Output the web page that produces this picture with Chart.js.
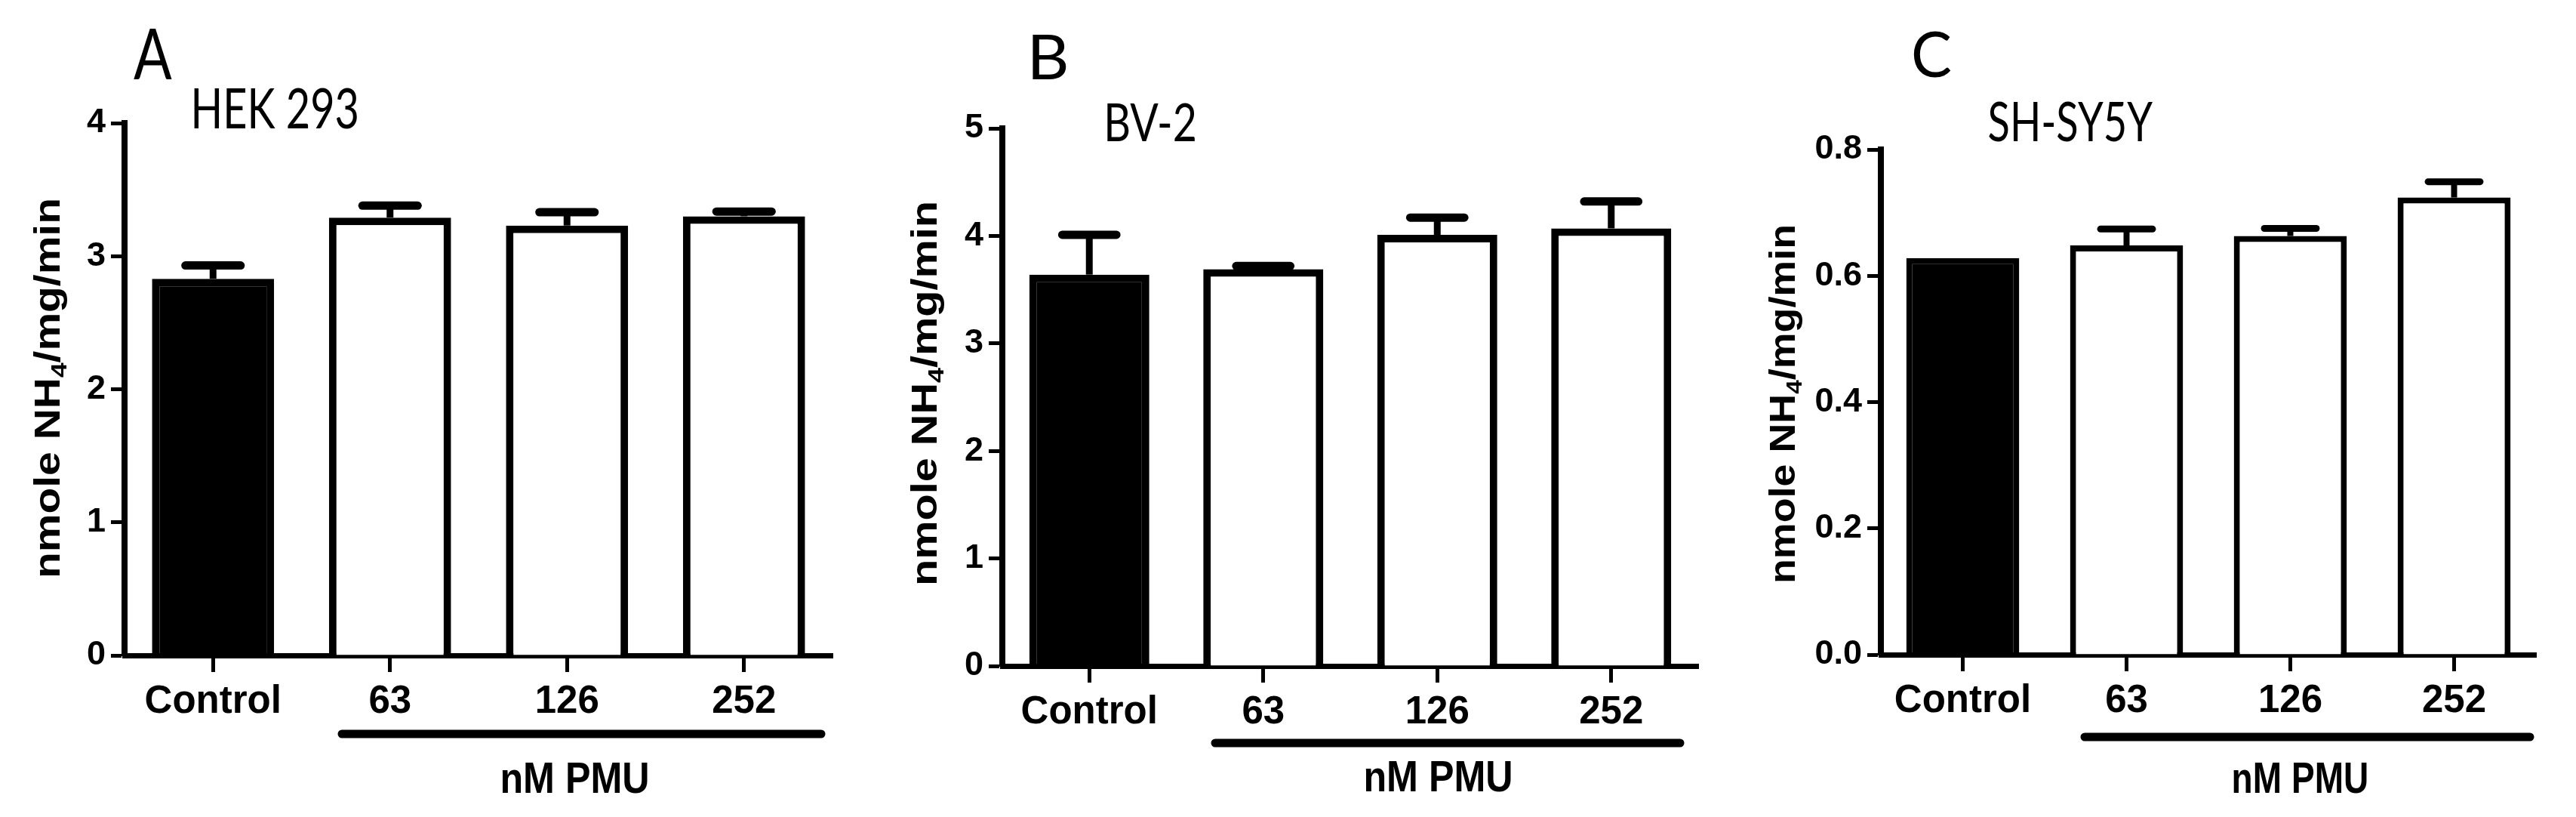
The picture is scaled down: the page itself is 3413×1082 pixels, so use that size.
<!DOCTYPE html>
<html><head><meta charset="utf-8">
<script src="https://cdn.jsdelivr.net/npm/chart.js@4.4.1/dist/chart.umd.min.js"></script>
<style>
html,body{margin:0;padding:0;background:#fff;}
body{width:3413px;height:1082px;position:relative;overflow:hidden;}
canvas{position:absolute;top:0;}
</style></head><body>
<canvas id="cA" width="1140" height="1082" style="left:0px;width:1140px;height:1082px"></canvas>
<canvas id="cB" width="1140" height="1082" style="left:1140px;width:1140px;height:1082px"></canvas>
<canvas id="cC" width="1133" height="1082" style="left:2280px;width:1133px;height:1082px"></canvas>
<script>
// ---------- data ----------
const categories = ['Control', '63', '126', '252'];
const groupLabel = 'nM PMU';
const yTitleParts = ['nmole NH', '4', '/mg/min'];

const hekName = 'HEK 293';
const hekMeans = [2.83, 3.29, 3.23, 3.30];
const hekSem   = [0.10, 0.09, 0.10, 0.035];
const hekTicks = ['0', '1', '2', '3', '4'];

const bv2Name = 'BV-2';
const bv2Means = [3.64, 3.69, 4.01, 4.07];
const bv2Sem   = [0.37, 0.03, 0.16, 0.25];
const bv2Ticks = ['0', '1', '2', '3', '4', '5'];

const shName = 'SH-SY5Y';
const shMeans = [0.628, 0.648, 0.663, 0.724];
const shSem   = [0, 0.026, 0.012, 0.025];
const shTicks = ['0.0', '0.2', '0.4', '0.6', '0.8'];

const barColors = ['#000000', '#ffffff', '#ffffff', '#ffffff'];

// ---------- font detection ----------
function hasFont(name) {
  const c = document.createElement('canvas').getContext('2d');
  c.font = '100px monospace'; const a = c.measureText('Control 0123').width;
  c.font = '100px "' + name + '", monospace'; const b = c.measureText('Control 0123').width;
  return Math.abs(a - b) > 0.5;
}
const NARROW = hasFont('Liberation Sans Narrow');
const labelFamily = NARROW ? '"Liberation Sans Narrow", "Liberation Sans", Arial, sans-serif' : '"Liberation Sans", Arial, sans-serif';
const labelScale = NARROW ? 1 : 0.84;

// ---------- plugins ----------
const errorBars = {
  id: 'errorBars',
  afterDatasetsDraw(chart, args, opts) {
    const ctx = chart.ctx;
    const meta = chart.getDatasetMeta(0);
    const ds = chart.data.datasets[0];
    const y = chart.scales.y;
    ctx.save();
    ctx.strokeStyle = '#000';
    meta.data.forEach((bar, i) => {
      const s = ds.sem[i];
      if (!s) return;
      const top = y.getPixelForValue(ds.data[i]);
      const capY = y.getPixelForValue(ds.data[i] + s);
      const half = bar.width * opts.capRatio / 2;
      ctx.lineCap = 'butt';
      ctx.lineWidth = opts.whisker;
      ctx.beginPath(); ctx.moveTo(bar.x, top); ctx.lineTo(bar.x, capY); ctx.stroke();
      ctx.lineCap = 'round';
      ctx.lineWidth = opts.cap;
      ctx.beginPath();
      ctx.moveTo(bar.x - half + opts.cap / 2, capY);
      ctx.lineTo(bar.x + half - opts.cap / 2, capY);
      ctx.stroke();
    });
    ctx.restore();
  }
};

function fitText(ctx, text, font, x, base, w) {
  ctx.save();
  ctx.font = font;
  ctx.fillStyle = '#000';
  ctx.textAlign = 'left';
  ctx.textBaseline = 'alphabetic';
  const m = ctx.measureText(text);
  const ink = m.actualBoundingBoxRight + m.actualBoundingBoxLeft;
  const sx = w / ink;
  ctx.translate(x, base);
  ctx.scale(sx, 1);
  ctx.fillText(text, m.actualBoundingBoxLeft, 0);
  ctx.restore();
}

function drawYTitle(ctx, P) {
  const F = 56;
  const fam = '"Liberation Sans", Arial, sans-serif';
  ctx.save();
  ctx.fillStyle = '#000';
  ctx.textAlign = 'left';
  ctx.textBaseline = 'alphabetic';
  ctx.font = 'bold ' + F + 'px ' + fam;
  const w1 = ctx.measureText(yTitleParts[0]).width;
  const w3 = ctx.measureText(yTitleParts[2]).width;
  ctx.font = 'bold ' + (F * 0.62) + 'px ' + fam;
  const w2 = ctx.measureText(yTitleParts[1]).width;
  const L = w1 + w2 + w3;
  const sx = (P.yt.y2 - P.yt.y1) / L;
  ctx.translate(P.yt.base - P.offsetX, P.yt.y2);
  ctx.rotate(-Math.PI / 2);
  ctx.scale(sx, 0.85);
  ctx.font = 'bold ' + F + 'px ' + fam;
  ctx.fillText(yTitleParts[0], 0, 0);
  ctx.font = 'bold ' + (F * 0.62) + 'px ' + fam;
  ctx.fillText(yTitleParts[1], w1, F * 0.18);
  ctx.font = 'bold ' + F + 'px ' + fam;
  ctx.fillText(yTitleParts[2], w1 + w2, 0);
  ctx.restore();
}

const panelText = {
  id: 'panelText',
  afterDraw(chart, args, P) {
    const ctx = chart.ctx;
    const ox = P.offsetX;
    fitText(ctx, P.letter.text, '400 ' + P.letter.size + 'px Lato, "Open Sans", sans-serif', P.letter.x - ox, P.letter.base, P.letter.w);
    fitText(ctx, P.cell.text, '400 ' + P.cell.size + 'px Lato, "Open Sans", sans-serif', P.cell.x - ox, P.cell.base, P.cell.w);
    fitText(ctx, groupLabel, 'bold ' + P.group.size + 'px "Liberation Sans", Arial, sans-serif', P.group.x - ox, P.group.base, P.group.w);
    drawYTitle(ctx, P);
    ctx.save();
    ctx.strokeStyle = '#000';
    ctx.lineCap = 'round';
    ctx.lineWidth = P.line.lw;
    ctx.beginPath();
    ctx.moveTo(P.line.x1 - ox, P.line.y);
    ctx.lineTo(P.line.x2 - ox, P.line.y);
    ctx.stroke();
    ctx.restore();
  }
};

// ---------- chart factory ----------
function makeChart(id, name, means, sem, tickLabels, yMax, step, P) {
  const local = {
    left: P.left - P.offsetX,
    right: P.right - P.offsetX
  };
  return new Chart(document.getElementById(id), {
    type: 'bar',
    data: {
      labels: categories,
      datasets: [{
        label: name,
        data: means,
        sem: sem,
        backgroundColor: barColors,
        borderColor: '#000',
        borderWidth: P.bw,
        borderSkipped: 'start',
        barPercentage: 0.69,
        categoryPercentage: 1
      }]
    },
    options: {
      responsive: false,
      animation: false,
      devicePixelRatio: 1,
      layout: { padding: { left: 0, top: P.top, right: P.w - local.right, bottom: 0 } },
      plugins: {
        legend: { display: false },
        tooltip: { enabled: false },
        title: { display: false },
        errorBars: { capRatio: 0.52, whisker: P.whisker, cap: P.cap },
        panelText: P
      },
      scales: {
        x: {
          type: 'category',
          offset: true,
          grid: { display: true, drawOnChartArea: false, drawTicks: true, offset: false,
                  tickLength: 22, tickWidth: 5, color: '#000', tickColor: '#000' },
          border: { display: true, color: '#000', width: 7 },
          ticks: { color: '#000', padding: 9, maxRotation: 0, minRotation: 0, autoSkip: false,
                   font: { family: labelFamily, size: Math.round(61 * labelScale), weight: 'bold' } },
          afterFit: s => { s.height = P.h - P.bottom; }
        },
        y: {
          min: 0,
          max: yMax,
          grid: { display: true, drawOnChartArea: false, drawTicks: true,
                  tickLength: 18, tickWidth: 5, color: '#000', tickColor: '#000' },
          border: { display: true, color: '#000', width: 8 },
          ticks: { stepSize: step, color: '#000', padding: 7,
                   callback: (v, i) => tickLabels[i],
                   font: { family: labelFamily, size: Math.round(53 * labelScale), weight: 'bold' } },
          afterFit: s => { s.width = local.left; }
        }
      }
    },
    plugins: [errorBars, panelText]
  });
}

// ---------- layout (page coordinates) ----------
const layoutA = {
  offsetX: 0, w: 1140, h: 1082, left: 165, right: 1103, top: 163, bottom: 868,
  bw: 10, whisker: 9, cap: 11,
  letter: { text: 'A', x: 177, base: 105, w: 51, size: 94 },
  cell: { text: hekName, x: 257, base: 170, w: 216, size: 74 },
  yt: { base: 79, y1: 262, y2: 766 },
  group: { x: 665, base: 1050, w: 193, size: 58 },
  line: { x1: 453, x2: 1088, y: 972, lw: 11 }
};
const layoutB = {
  offsetX: 1140, w: 1140, h: 1082, left: 1328, right: 2250, top: 170, bottom: 882,
  bw: 10, whisker: 9, cap: 11,
  letter: { text: 'B', x: 1368, base: 105, w: 45, size: 81 },
  cell: { text: bv2Name, x: 1467, base: 187, w: 116, size: 70 },
  yt: { base: 1241, y1: 266, y2: 776 },
  group: { x: 1809, base: 1048, w: 193, size: 58 },
  line: { x1: 1610, x2: 2226, y: 984, lw: 11 }
};
const layoutC = {
  offsetX: 2280, w: 1133, h: 1082, left: 2492, right: 3360, top: 198, bottom: 867,
  bw: 8, whisker: 8, cap: 9,
  letter: { text: 'C', x: 2535, base: 102, w: 50, size: 84 },
  cell: { text: shName, x: 2635, base: 187, w: 217, size: 72 },
  yt: { base: 2378, y1: 297, y2: 773 },
  group: { x: 2959, base: 1050, w: 177, size: 58 },
  line: { x1: 2762, x2: 3352, y: 976, lw: 11 }
};

makeChart('cA', hekName, hekMeans, hekSem, hekTicks, 4, 1, layoutA);
makeChart('cB', bv2Name, bv2Means, bv2Sem, bv2Ticks, 5, 1, layoutB);
makeChart('cC', shName, shMeans, shSem, shTicks, 0.8, 0.2, layoutC);
</script>
</body></html>
